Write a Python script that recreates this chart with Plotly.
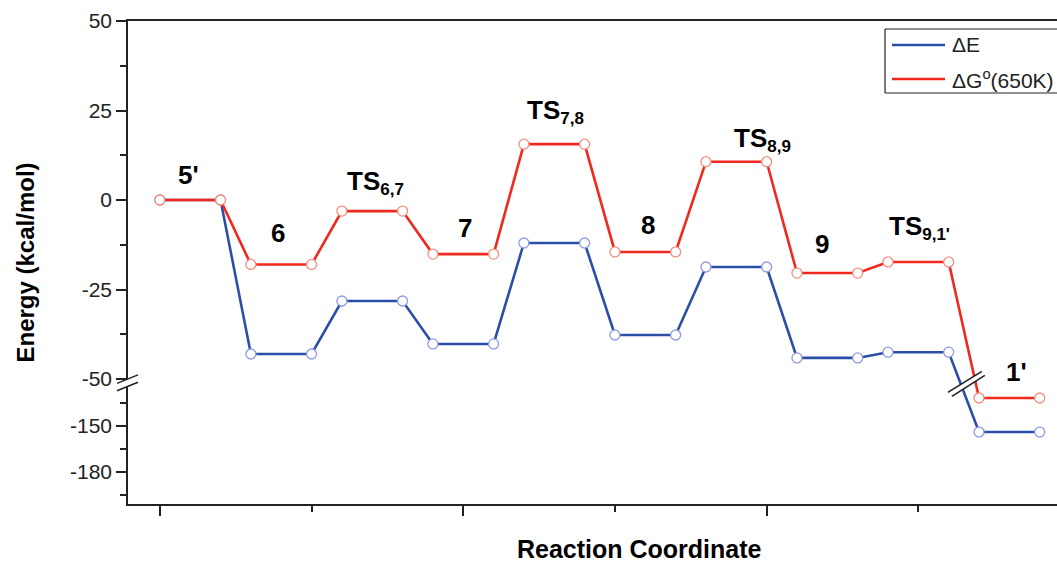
import plotly.graph_objects as go

# ---------------- data ----------------
states = ["5'", "6", "TS6,7", "7", "TS7,8", "8", "TS8,9", "9", "TS9,1'", "1'"]
label_text = ["5'", "6", "TS<sub><span style='font-size:17px'>6,7</span></sub>", "7",
              "TS<sub><span style='font-size:17px'>7,8</span></sub>", "8",
              "TS<sub><span style='font-size:17px'>8,9</span></sub>", "9",
              "TS<sub><span style='font-size:17px'>9,1'</span></sub>", "1'"]
dE = [0, -43.0, -28.2, -40.2, -12.0, -37.7, -18.7, -44.1, -42.5, -153.9]
dG = [0, -18.0, -3.1, -15.1, 15.6, -14.5, 10.7, -20.4, -17.3, -131.7]
y_ticks = [50, 25, 0, -25, -50, -150, -180]
y_minor = [37.5, 12.5, -12.5, -37.5, -135, -165, -195]
x_major = [0, 10, 20]
x_minor = [5, 15, 25]

# ---------------- broken axis scale ----------------
BREAK_TOP = -50.0          # upper segment ends here
LOWER_REF = -150.0         # value in lower segment
LOWER_REF_DISP = -63.13    # where it sits on the display axis
LOWER_SCALE = 0.4283       # compression of lower segment


def disp(v):
    if v >= BREAK_TOP:
        return v
    return LOWER_REF_DISP + (v - LOWER_REF) * LOWER_SCALE


BREAK_CENTER = (BREAK_TOP + disp(-125)) / 2

# each state is a flat segment of two points
xs, yE, yG = [], [], []
for i in range(len(states)):
    for k in (0, 2):
        xs.append(3 * i + k)
        yE.append(disp(dE[i]))
        yG.append(disp(dG[i]))

FONT = "Liberation Sans, Arial, sans-serif"
BLUE = "#2b4ea8"
RED = "#f0281e"
X_RANGE = [-1.05, 29.57]

fig = go.Figure()
fig.add_trace(go.Scatter(
    x=xs, y=yE, mode="lines+markers", name="ΔE", showlegend=False,
    line=dict(color=BLUE, width=2.6),
    marker=dict(symbol="circle", size=10, color="white",
                line=dict(color="#8f9ce0", width=1.3)),
))
fig.add_trace(go.Scatter(
    x=xs, y=yG, mode="lines+markers", name="ΔG°(650K)", showlegend=False,
    line=dict(color=RED, width=2.6),
    marker=dict(symbol="circle", size=10, color="white",
                line=dict(color="#f29080", width=1.3)),
))

# ---------------- state labels ----------------
# pixel offsets of each label relative to (state middle, ΔG level)
label_dx = [-2, -3, 3, 2, 1, 3, 26, -5, 1, 7]
label_dy = [25, 31, 29, 26, 33, 27, 22, 29, 34, 26]
for i, t in enumerate(label_text):
    fig.add_annotation(
        x=3 * i + 1, y=disp(dG[i]), xref="x", yref="y", text=t, showarrow=False,
        xshift=label_dx[i], yshift=label_dy[i], xanchor="center", yanchor="middle",
        font=dict(family=FONT, size=26, color="black", weight="bold"),
    )

# ---------------- break marks ----------------
def break_mark(xref, x, y, l1, l2):
    (a, b), (c, d) = l1
    (e, f), (g, h) = l2
    fig.add_shape(type="path", xref=xref, yref="y", xsizemode="pixel", ysizemode="pixel",
                  xanchor=x, yanchor=y,
                  path=f"M{a},{b} L{c},{d} L{g},{h} L{e},{f} Z",
                  fillcolor="white", line=dict(width=0), layer="above")
    for (p0, p1) in (l1, l2):
        fig.add_shape(type="line", xref=xref, yref="y", xsizemode="pixel", ysizemode="pixel",
                      xanchor=x, yanchor=y, x0=p0[0], y0=p0[1], x1=p1[0], y1=p1[1],
                      line=dict(color="#222222", width=1.6), layer="above")


break_mark("paper", 0, BREAK_CENTER, ((-11, 0), (10, 8.5)), ((-11, -7.3), (10, 1.2)))
break_mark("x", 26.5, BREAK_CENTER, ((-16, -9), (18, 12)), ((-12, -13), (21, 8)))

# ---------------- legend (drawn) ----------------
W_PLOT, H_PLOT, L, T = 929.0, 483.0, 128.0, 21.0


def px(xp):
    return (xp - L) / W_PLOT


def py(yp):
    return (T + H_PLOT - yp) / H_PLOT


def xdata(xp):
    return X_RANGE[0] + px(xp) * (X_RANGE[1] - X_RANGE[0])


# box open on the right (cut off by the picture edge); drawn in data x so it is clipped
bx0, bx1, by0, by1 = xdata(885), X_RANGE[1] + 5, py(93), py(29)
for (xa, ya, xb, yb) in ((bx0, by0, bx0, by1), (bx0, by0, bx1, by0), (bx0, by1, bx1, by1)):
    fig.add_shape(type="line", xref="x", yref="paper", x0=xa, y0=ya, x1=xb, y1=yb,
                  line=dict(color="#222222", width=1.2))
for name, col, yy in (("ΔE", BLUE, 45), ("ΔG<sup>o</sup>(650K)", RED, 79)):
    fig.add_shape(type="line", xref="paper", yref="paper", x0=px(892), x1=px(945),
                  y0=py(yy), y1=py(yy), line=dict(color=col, width=2.6))
    fig.add_annotation(x=px(950), y=py(yy), xref="paper", yref="paper", text=name,
                       showarrow=False, xanchor="left", yanchor="middle",
                       font=dict(family=FONT, size=21, color="#222222"))

# ---------------- axis titles ----------------
fig.add_annotation(x=px(25), y=0.5, xref="paper", yref="paper", text="Energy (kcal/mol)",
                   textangle=-90, showarrow=False, xanchor="center", yanchor="middle",
                   font=dict(family=FONT, size=24, color="black", weight="bold"))
fig.add_annotation(x=px(639), y=py(549), xref="paper", yref="paper", text="Reaction Coordinate",
                   showarrow=False, xanchor="center", yanchor="middle",
                   font=dict(family=FONT, size=25, color="black", weight="bold"))

fig.update_layout(
    width=1057, height=563,
    margin=dict(l=128, r=0, t=21, b=59, pad=0),
    paper_bgcolor="white", plot_bgcolor="white",
    font=dict(family=FONT, color="#222222"),
    showlegend=False,
)
fig.update_xaxes(
    range=X_RANGE, showgrid=False, zeroline=False,
    showline=True, linecolor="#222222", linewidth=1.6, mirror=True,
    tickmode="array", tickvals=x_major, ticks="outside", ticklen=10, tickwidth=1.5,
    tickcolor="#222222", showticklabels=False,
    minor=dict(tickmode="array", tickvals=x_minor, ticks="outside", ticklen=6,
               tickwidth=1.5, tickcolor="#222222"),
)
fig.update_yaxes(
    range=[-84.9, 50], showgrid=False, zeroline=False,
    showline=True, linecolor="#222222", linewidth=1.6, mirror=False,
    tickmode="array", tickvals=[disp(v) for v in y_ticks], ticktext=[str(v) for v in y_ticks],
    ticks="outside", ticklen=10, tickwidth=1.5, tickcolor="#222222",
    tickfont=dict(family=FONT, size=21, color="#222222"),
    minor=dict(tickmode="array", tickvals=[disp(v) for v in y_minor], ticks="outside",
               ticklen=6, tickwidth=1.5, tickcolor="#222222"),
)

fig.write_html(
    "out.html",
    config={"displayModeBar": False},
    post_script="document.body.style.margin='0';document.body.style.padding='0';document.body.style.overflow='hidden';",
)
